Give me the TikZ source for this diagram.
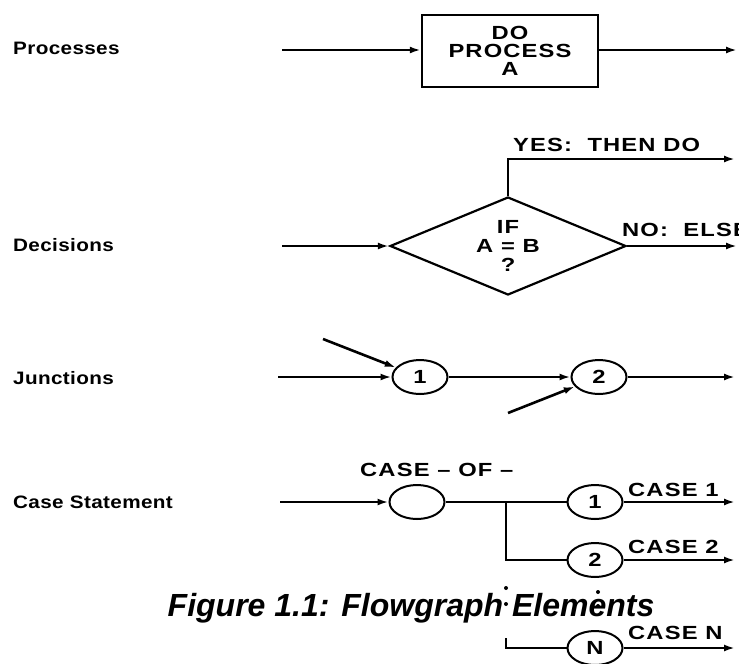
\documentclass[tikz,border=0pt]{standalone}
\usepackage{fontspec}
\usetikzlibrary{arrows.meta,shapes.geometric}
\newfontfamily\wideface[FakeStretch=1.25,LetterSpace=6]{Liberation Sans}
\newfontfamily\rowface[FakeStretch=1.15,LetterSpace=2]{Liberation Sans}
\newfontfamily\capface{Liberation Sans}

\begin{document}
\begin{tikzpicture}[x=1pt, y=-1pt,
  flow/.style={line width=2.6pt, -{Latex[length=11pt,width=7pt]}},
  plain/.style={line width=2.6pt},
  rowlabel/.style={anchor=west, inner sep=0pt, font=\rowface\bfseries\fontsize{18}{20}\selectfont},
  tag/.style={anchor=west, inner sep=0pt, font=\wideface\bfseries\fontsize{19}{20}\selectfont},
  procbox/.style={draw, line width=2.4pt, minimum width=176pt, minimum height=72pt, inner sep=0pt, align=center, font=\wideface\bfseries\fontsize{19}{18}\selectfont},
  choice/.style={draw, diamond, aspect=2.4, line width=2.2pt, minimum width=236pt, minimum height=98pt, inner sep=0pt, align=center, font=\wideface\bfseries\fontsize{19}{19}\selectfont},
  junc/.style={draw, ellipse, line width=2pt, minimum width=55pt, minimum height=34pt, inner sep=0pt, font=\wideface\bfseries\fontsize{19}{20}\selectfont},
  dot/.style={circle, fill, inner sep=0pt, minimum size=4pt}]
\useasboundingbox (0,0) rectangle (739,664);

% row labels
\node[rowlabel] (lproc) at (13,48) {Processes};
\node[rowlabel] (ldec) at (13,245) {Decisions};
\node[rowlabel] (ljunc) at (13,378) {Junctions};
\node[rowlabel] (lcase) at (13,502) {Case Statement};

% process
\node[procbox] (proc) at (510,51) {DO\\PROCESS\\A};
\coordinate (procin) at (282,50);
\coordinate (procout) at (737,50);
\draw[flow] (procin) -- (procin -| proc.west);
\draw[flow] (procout -| proc.east) -- (procout);

% decision
\node[choice] (dec) at (508,246) {IF\\A = B\\?};
\coordinate (decin) at (282,246);
\coordinate (yesout) at (735,159);
\coordinate (noout) at (737,246);
\draw[flow] (decin) -- (dec.west);
\draw[flow] (dec.north) |- (yesout);
\draw[flow] (dec.east) -- (noout);
\node[tag] (yes) at (513,145) {YES:\ \ THEN DO};
\node[tag] (no) at (622,230) {NO:\ \ ELSE};

% junctions
\node[junc] (j1) at (420,377) {1};
\node[junc] (j2) at (599,377) {2};
\coordinate (jin) at (278,377);
\coordinate (jout) at (735,377);
\coordinate (jtop) at (323,339);
\coordinate (jlow) at (508,413);
\draw[flow] (jin) -- (j1);
\draw[flow] (jtop) -- (j1);
\draw[flow] (j1) -- (j2);
\draw[flow] (jlow) -- (j2);
\draw[flow] (j2) -- (jout);

% case statement
\node[junc] (c0) at (417,502) {};
\node[junc] (c1) at (595,502) {1};
\node[junc] (c2) at (595,560) {2};
\node[junc] (cn) at (595,648) {N};
\coordinate (cin) at (280,502);
\coordinate (fork) at (506,502);
\coordinate (lowfork) at (506,638);
\draw[flow] (cin) -- (c0);
\draw[plain] (c0) -- (c1);
\draw[plain] (fork) |- (c2);
\draw[plain] (lowfork) |- (cn);
\foreach \c in {c1,c2,cn}
  \draw[flow] (\c.east) -- (\c.east -| 735,0);
\node[tag] (cof) at (360,470) {CASE – OF –};
\node[tag] (case1) at (628,490) {CASE 1};
\node[tag] (case2) at (628,547) {CASE 2};
\node[tag] (casen) at (628,633) {CASE N};
\foreach \y in {588,604}
  \node[dot] at (506,\y) {};
\foreach \y in {592,606}
  \node[dot] at (598,\y) {};

% caption
\node[font=\capface\bfseries\itshape\fontsize{32}{36}\selectfont] (caption) at (411,608) {Figure 1.1: Flowgraph Elements};
\end{tikzpicture}
\end{document}
